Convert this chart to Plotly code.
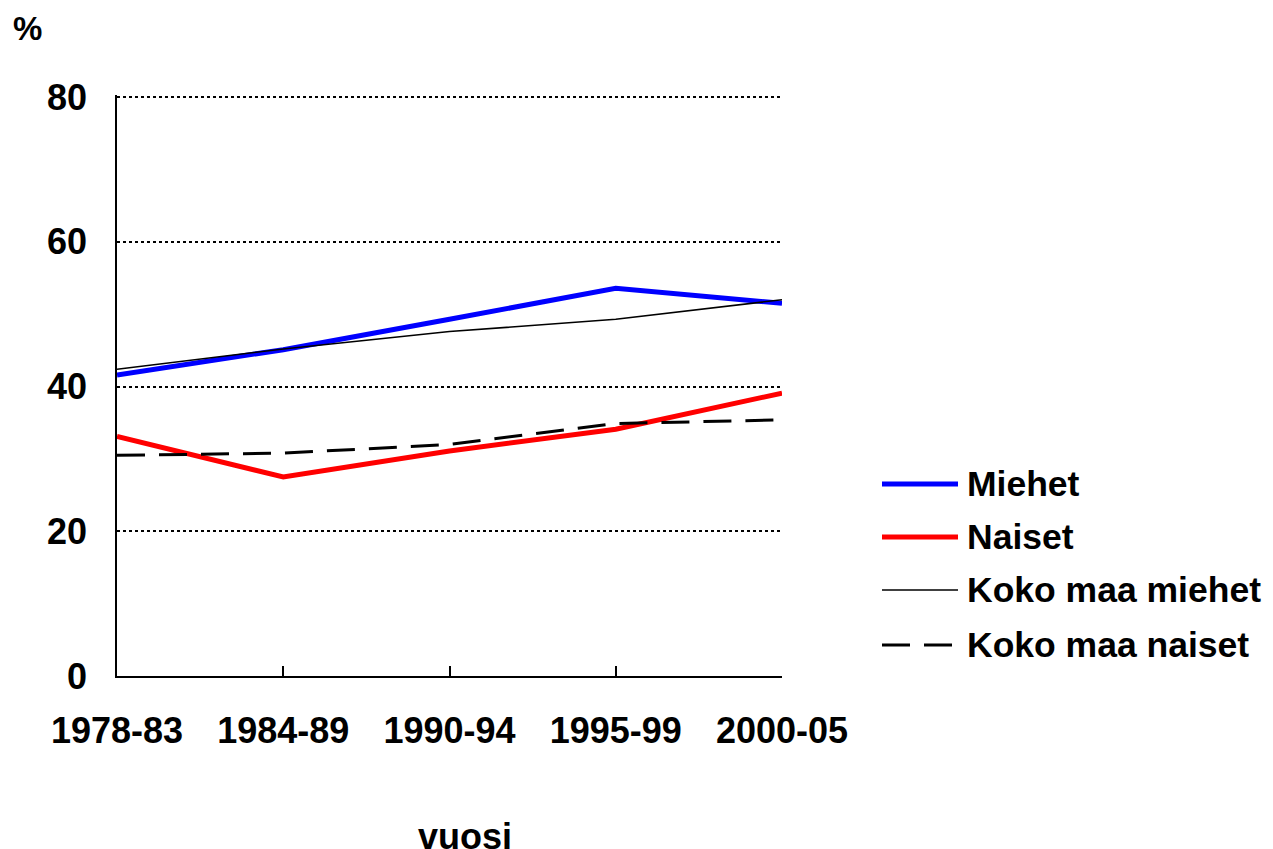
import plotly.graph_objects as go

periods = ["1978-83", "1984-89", "1990-94", "1995-99", "2000-05"]
miehet = [41.6, 45.1, 49.3, 53.6, 51.5]
naiset = [33.1, 27.5, 31.1, 34.1, 39.1]
koko_miehet = [42.4, 45.2, 47.6, 49.3, 52.0]
koko_naiset = [30.5, 30.8, 32.0, 34.9, 35.4]

y_ticks = [0, 20, 40, 60, 80]

DASH = "28px,14px"
series = [
    ("Miehet", miehet, dict(color="#0000FF", width=5, dash="solid")),
    ("Naiset", naiset, dict(color="#FF0000", width=5, dash="solid")),
    ("Koko maa miehet", koko_miehet, dict(color="#000000", width=1.5, dash="solid")),
    ("Koko maa naiset", koko_naiset, dict(color="#000000", width=3, dash=DASH)),
]

FONT = "Liberation Sans, Arial, sans-serif"

# layout geometry (figure pixels)
L, T, PW, PH = 109, 87, 665, 581
W, H = 1273, 849


def px(x):
    return (x - L) / PW


def py(y):
    return (T + PH - y) / PH


fig = go.Figure()
for name, vals, line in series:
    fig.add_trace(go.Scatter(x=periods, y=vals, mode="lines", name=name,
                             line=line, showlegend=False))

# custom legend
legend_y = [476, 529, 582, 637]
for (name, vals, line), ly in zip(series, legend_y):
    fig.add_shape(type="line", xref="paper", yref="paper",
                  x0=px(874), x1=px(950), y0=py(ly), y1=py(ly),
                  line=dict(color=line["color"], width=line["width"], dash=line["dash"]))
    fig.add_annotation(text=name, xref="paper", yref="paper",
                       x=px(957), y=py(ly), xanchor="left", yanchor="middle",
                       showarrow=False,
                       font=dict(size=35.5, color="black", family=FONT, weight="bold"))

fig.add_annotation(text="%", xref="paper", yref="paper", x=px(19), y=py(20),
                   xanchor="center", yanchor="middle", showarrow=False,
                   font=dict(size=33, color="black", family=FONT, weight="bold"))
fig.add_annotation(text="vuosi", xref="paper", yref="paper", x=px(457), y=py(828),
                   xanchor="center", yanchor="middle", showarrow=False,
                   font=dict(size=36, color="black", family=FONT, weight="bold"))

fig.update_layout(
    width=W, height=H,
    margin=dict(l=L, r=W - L - PW, t=T, b=H - T - PH),
    paper_bgcolor="white", plot_bgcolor="white",
    font=dict(family=FONT, size=36, color="black"),
    xaxis=dict(type="category", range=[0, 4], showgrid=False, showline=True,
               linecolor="black", linewidth=1.5, ticks="inside", ticklen=10,
               tickcolor="black", tickwidth=1.5,
               tickfont=dict(size=36, family=FONT, weight="bold"),
               ticklabelstandoff=22,
               zeroline=False, automargin=False),
    yaxis=dict(range=[0, 80.3], tickvals=y_ticks,
               showgrid=True, gridcolor="black", gridwidth=2, griddash="dot",
               showline=True, linecolor="black", linewidth=1.5, ticks="outside",
               ticklen=21, tickcolor="rgba(0,0,0,0)",
               tickfont=dict(size=36, family=FONT, weight="bold"),
               zeroline=False, automargin=False),
)

fig.write_html("out.html")
